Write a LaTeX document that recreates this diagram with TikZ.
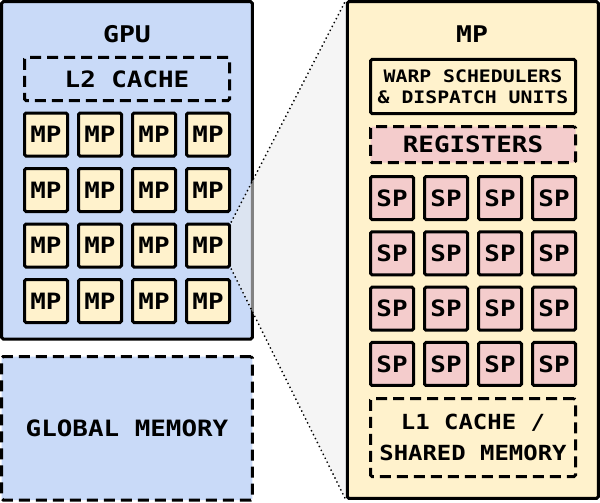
\documentclass[tikz,border=0pt]{standalone}
\usepackage{fontspec}
\newfontfamily\dmono{DejaVu Sans Mono}[FakeStretch=1.15]
\definecolor{gpublue}{HTML}{C9DAF8}
\definecolor{mpyellow}{HTML}{FFF2CC}
\definecolor{spred}{HTML}{F4CCCC}
\definecolor{shadegray}{RGB}{237,237,237}
\pgfdeclarelayer{front}
\pgfsetlayers{main,front}
\begin{document}
\begin{tikzpicture}[x=1pt,y=-1pt,
  box/.style={draw=black, line width=3pt, rounded corners=1.5pt, inner sep=0pt, align=center},
  dbox/.style={box, dash pattern=on 11pt off 6pt},
  tsize/.style={font=\dmono\bfseries\fontsize{#1}{#1}\selectfont},
  cell/.style={box, minimum width=43pt, minimum height=43pt, tsize=22.5},
  mpcell/.style={cell, fill=mpyellow},
  spcell/.style={cell, fill=spred},
  shadefill/.style={fill=shadegray, fill opacity=0.55},
  dotline/.style={line width=1.4pt, dash pattern=on 1.4pt off 3pt}
]
\useasboundingbox (0,0) rectangle (600,503);
% GPU
\node[box, fill=gpublue, minimum width=250.6pt, minimum height=337.3pt] (gpu) at (127,170.35) {};
\node[tsize=23, inner sep=0pt] (gputitle) at (127,34) {GPU};
\node[dbox, minimum width=205pt, minimum height=43pt, tsize=22.5] (l2) at (127,79) {L2 CACHE};
\foreach \j in {1,...,4} {
  \foreach \i in {1,...,4} {
    \node[mpcell] (mp\j\i) at ({46+54*(\i-1)},{134.5+55.5*(\j-1)}) {MP};
  }
}
% Global memory
\node[dbox, fill=gpublue, minimum width=250.6pt, minimum height=143.5pt, tsize=22.5] (gmem) at (127,428.25) {GLOBAL MEMORY};
% Big MP (front layer)
\begin{pgfonlayer}{front}
\node[box, fill=mpyellow, minimum width=251pt, minimum height=496.6pt] (bigmp) at (472.8,250) {};
\node[tsize=23, inner sep=0pt] (mptitle) at (472,34) {MP};
\node[box, fill=mpyellow, minimum width=205pt, minimum height=54pt, font=\dmono\bfseries\fontsize{17.2}{20.8}\selectfont] (warp) at (473,86.5) {WARP SCHEDULERS\\\& DISPATCH UNITS};
\node[dbox, fill=spred, minimum width=205pt, minimum height=36pt, tsize=22.5] (regs) at (473,144.5) {REGISTERS};
\foreach \j in {1,...,4} {
  \foreach \i in {1,...,4} {
    \node[spcell] (sp\j\i) at ({392+54*(\i-1)},{198+55.33*(\j-1)}) {SP};
  }
}
\node[dbox, minimum width=205pt, minimum height=78pt, font=\dmono\bfseries\fontsize{20.8}{31.7}\selectfont] (l1) at (473,437.5) {L1 CACHE /\\SHARED MEMORY};
\end{pgfonlayer}
% Magnification
\fill[shadefill] (mp34.north east) -- (bigmp.north west) -- (bigmp.south west) -- (mp34.south east) -- cycle;
\draw[dotline] (mp34.north east) -- (bigmp.north west);
\draw[dotline] (mp34.south east) -- (bigmp.south west);
\end{tikzpicture}
\end{document}
